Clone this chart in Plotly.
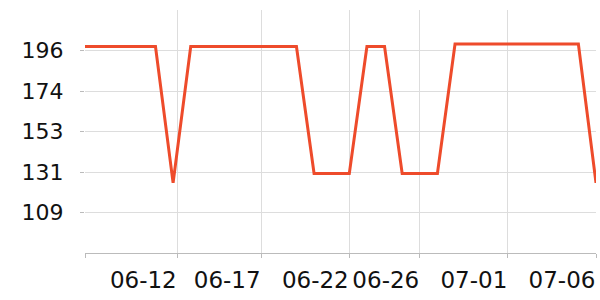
import plotly.graph_objects as go
import pandas as pd

# Data
dates = pd.date_range("2024-06-07", "2024-07-06", freq="D")
values = [198.1, 198.1, 198.1, 198.1, 198.1, 124.9,
          198.1, 198.1, 198.1, 198.1, 198.1, 198.1, 198.1,
          130.0, 130.0, 130.0,
          198.1, 198.1,
          130.0, 130.0, 130.0,
          199.5, 199.5, 199.5, 199.5, 199.5, 199.5, 199.5, 199.5,
          124.9]

x_tickvals = ["2024-06-07", "2024-06-12 05:45", "2024-06-17", "2024-06-22",
              "2024-06-26", "2024-07-01", "2024-07-06"]
x_ticktext = ["", "06-12", "06-17", "06-22", "06-26", "07-01", "07-06"]

y_tickvals = [109.0, 130.75, 152.5, 174.25, 196.0]
y_ticktext = ["109", "131", "153", "174", "196"]
y_range = [87.25, 217.75]

fig = go.Figure()
fig.add_trace(go.Scatter(
    x=dates, y=values, mode="lines",
    line=dict(color="#ee4b2b", width=3),
    hoverinfo="skip",
))

fig.update_layout(
    width=600, height=300,
    margin=dict(l=85, r=4, t=10, b=47),
    paper_bgcolor="white", plot_bgcolor="white",
    showlegend=False,
    font=dict(family="DejaVu Sans", size=22, color="#111"),
)
fig.update_xaxes(
    type="date",
    range=[dates[0], dates[-1]],
    tickmode="array", tickvals=x_tickvals, ticktext=x_ticktext,
    tickfont=dict(size=23),
    showgrid=True, gridcolor="#dddddd", gridwidth=1,
    showline=True, linecolor="#bbbbbb", linewidth=1,
    ticks="outside", ticklen=4, tickcolor="#bbbbbb",
    ticklabelshift=-34, ticklabelstandoff=2,
    zeroline=False,
)
fig.update_yaxes(
    range=y_range,
    tickmode="array", tickvals=y_tickvals, ticktext=y_ticktext,
    showgrid=True, gridcolor="#dddddd", gridwidth=1,
    showline=False,
    ticks="outside", ticklen=4, tickcolor="#bbbbbb",
    ticklabelstandoff=12,
    zeroline=False,
)

fig.write_html("out.html")
